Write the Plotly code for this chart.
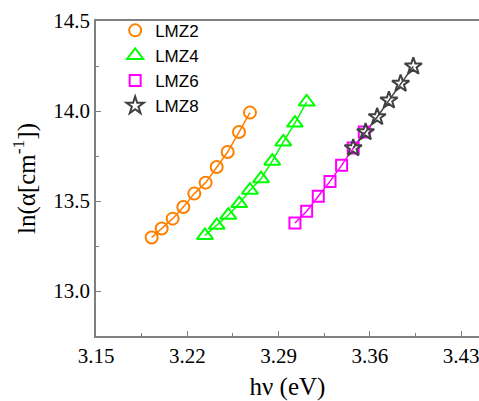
import plotly.graph_objects as go

# Data
lmz2_x = [3.1927, 3.2004, 3.2088, 3.2170, 3.2254, 3.2341, 3.2426, 3.2510, 3.2597, 3.2681]
lmz2_y = [13.297, 13.347, 13.402, 13.467, 13.541, 13.602, 13.689, 13.772, 13.883, 13.991]

lmz4_x = [3.2336, 3.2426, 3.2515, 3.2599, 3.2681, 3.2766, 3.2852, 3.2937, 3.3026, 3.3116]
lmz4_y = [13.309, 13.365, 13.421, 13.486, 13.560, 13.624, 13.721, 13.828, 13.933, 14.050]

lmz6_x = [3.3026, 3.3116, 3.3205, 3.3295, 3.3384, 3.3473, 3.3558]
lmz6_y = [13.378, 13.443, 13.526, 13.609, 13.698, 13.794, 13.883]

lmz8_x = [3.3473, 3.3568, 3.3657, 3.3747, 3.3837, 3.3934]
lmz8_y = [13.794, 13.883, 13.967, 14.059, 14.152, 14.248]

names = ["LMZ2", "LMZ4", "LMZ6", "LMZ8"]
colors = ["#FF8000", "#00FF00", "#FF00FF", "#404040"]
symbols = ["circle-open", "triangle-up-open", "square-open", "star-open"]
sizes = [12, 14, 11, 13]

xs = [lmz2_x, lmz4_x, lmz6_x, lmz8_x]
ys = [lmz2_y, lmz4_y, lmz6_y, lmz8_y]

fig = go.Figure()
# connecting lines (not in legend)
for x, y, n, c in zip(xs, ys, names, colors):
    fig.add_trace(go.Scatter(
        x=x, y=y, mode="lines", showlegend=False, hoverinfo="skip",
        line=dict(color=c, width=1.5),
    ))
# markers (legend entries)
for x, y, n, c, s, sz in zip(xs, ys, names, colors, symbols, sizes):
    fig.add_trace(go.Scatter(
        x=x, y=y, name=n, mode="markers",
        marker=dict(symbol=s, size=sz, color=c, line=dict(color=c, width=2)),
    ))

serif = "Liberation Serif"
axis_color = "#7f7f7f"

fig.update_layout(
    width=479, height=401,
    margin=dict(l=96, r=0, t=21, b=65),
    paper_bgcolor="white", plot_bgcolor="white",
    showlegend=True,
    legend=dict(x=0.05, y=1.026, xanchor="left", yanchor="top",
                font=dict(family="Liberation Sans", size=17, color="black"),
                bgcolor="rgba(0,0,0,0)", borderwidth=0, itemwidth=30,
                tracegroupgap=0),
    xaxis=dict(
        range=[3.15, 3.4438], tick0=3.15, dtick=0.07, tickformat=".2f",
        ticklabeloverflow="allow",
        showgrid=False, zeroline=False,
        showline=True, linecolor=axis_color, linewidth=1.5, mirror=True,
        ticks="inside", ticklen=5, tickwidth=1, tickcolor=axis_color,
        minor=dict(ticks="inside", dtick=0.035, tick0=3.15, ticklen=3, tickcolor=axis_color, showgrid=False),
        tickfont=dict(family=serif, size=21, color="black"),
        title=dict(text="hν (eV)", font=dict(family=serif, size=25, color="black"), standoff=13),
    ),
    yaxis=dict(
        range=[12.75, 14.5], tick0=13.0, dtick=0.5, tickformat=".1f",
        showgrid=False, zeroline=False,
        showline=True, linecolor=axis_color, linewidth=1.5, mirror=False,
        ticks="inside", ticklen=5, tickwidth=1, tickcolor=axis_color,
        minor=dict(ticks="inside", dtick=0.25, tick0=13.0, ticklen=3, tickcolor=axis_color, showgrid=False),
        tickfont=dict(family=serif, size=21, color="black"),
        title=dict(text="ln(α[cm<sup>-1</sup>])", font=dict(family=serif, size=25, color="black"), standoff=11),
    ),
)

fig.write_html("out.html")
